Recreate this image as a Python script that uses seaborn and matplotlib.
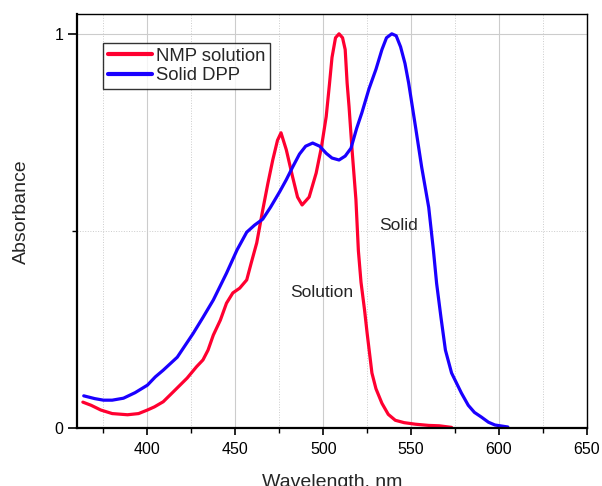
import matplotlib
matplotlib.use('Agg')
import matplotlib.pyplot as plt
import seaborn as sns
import pandas as pd
from matplotlib.ticker import MultipleLocator, FixedLocator

# NMP solution spectrum
sol_wl = [363.3, 368, 373.5, 380, 388.7, 395, 400, 404, 409, 414.7, 422.6, 428, 431.6,
          434.5, 437.5, 441.5, 445, 448.6, 452.5, 456.5, 459, 462.2, 465.6, 468.5,
          471.3, 474, 476, 479, 482.6, 485.4, 488, 492, 496, 499, 501.7, 503.5, 505,
          507, 509, 511, 512.5, 513.6, 514.7, 516.4, 518.6, 520, 521.5, 523.5, 525,
          527.7, 530, 533.4, 537, 541, 546, 552.5, 560, 566, 573]
sol_abs = [0.066, 0.058, 0.046, 0.037, 0.034, 0.037, 0.046, 0.054, 0.067, 0.092, 0.127,
           0.156, 0.173, 0.198, 0.236, 0.274, 0.317, 0.343, 0.355, 0.376, 0.418, 0.47,
           0.553, 0.62, 0.68, 0.73, 0.749, 0.706, 0.637, 0.586, 0.566, 0.586, 0.647,
           0.713, 0.79, 0.87, 0.94, 0.99, 1.0, 0.99, 0.96, 0.875, 0.815, 0.706, 0.58,
           0.45, 0.37, 0.30, 0.24, 0.14, 0.10, 0.063, 0.035, 0.02, 0.014, 0.01, 0.007,
           0.006, 0.002]

# solid DPP spectrum
solid_wl = [363.8, 370, 375, 380, 386.4, 393, 400, 404.5, 409, 417, 426, 431.5, 437.5,
            445, 451, 456.5, 461, 465.6, 470, 475.3, 479, 482.6, 486.5, 490, 494, 498,
            501.7, 505, 509, 512.5, 515.8, 519, 522, 526, 530, 533.4, 536, 539, 541.5,
            544, 546.5, 548.6, 552.5, 556, 560, 562.7, 564.5, 567, 569.5, 573, 578.6,
            582.5, 586, 590, 594, 597.7, 605]
solid_abs = [0.082, 0.075, 0.071, 0.071, 0.076, 0.09, 0.109, 0.13, 0.147, 0.18, 0.24,
             0.28, 0.325, 0.393, 0.452, 0.497, 0.515, 0.53, 0.56, 0.60, 0.63, 0.662,
             0.695, 0.715, 0.723, 0.715, 0.697, 0.685, 0.68, 0.69, 0.71, 0.76, 0.80,
             0.86, 0.91, 0.96, 0.99, 1.0, 0.995, 0.967, 0.925, 0.875, 0.764, 0.662, 0.56,
             0.45, 0.367, 0.28, 0.198, 0.14, 0.089, 0.058, 0.04, 0.028, 0.015, 0.008,
             0.003]

sol = pd.DataFrame({'Wavelength': sol_wl, 'Absorbance': sol_abs})
solid = pd.DataFrame({'Wavelength': solid_wl, 'Absorbance': solid_abs})

sns.set_style('white')
plt.rcParams['font.family'] = ['Liberation Sans', 'DejaVu Sans']

fig = plt.figure(figsize=(6.02, 4.86), dpi=100)
ax = fig.add_axes([0.128, 0.119, 0.847, 0.852])

sns.lineplot(data=sol, x='Wavelength', y='Absorbance', sort=False, ax=ax,
             color='#ff0030', linewidth=2.3, label='NMP solution')
sns.lineplot(data=solid, x='Wavelength', y='Absorbance', sort=False, ax=ax,
             color='#1a00ff', linewidth=2.3, label='Solid DPP')

ax.set_xlim(360, 650)
ax.set_ylim(0, 1.05)

ax.xaxis.set_major_locator(MultipleLocator(50))
ax.xaxis.set_minor_locator(MultipleLocator(25))
ax.yaxis.set_major_locator(FixedLocator([0, 1]))
ax.yaxis.set_minor_locator(FixedLocator([0.5]))
ax.set_yticklabels(['0', '1'])

ax.grid(which='major', color='#cccccc', linewidth=0.8, linestyle='-')
ax.grid(which='minor', color='#cccccc', linewidth=0.7, linestyle=':')
ax.set_axisbelow(True)

ax.tick_params(axis='y', which='major', direction='out', length=6.5, width=1.2)
ax.tick_params(axis='y', which='minor', direction='out', length=3.5, width=1.0)
ax.tick_params(axis='x', which='major', direction='out', length=5, width=1.2)
ax.tick_params(axis='x', which='minor', direction='out', length=3.5, width=1.0)
ax.tick_params(which='both', bottom=True, left=True, top=False, right=False,
               colors='black', labelsize=11.5)
ax.tick_params(axis='x', pad=5)

for side in ['left', 'bottom']:
    ax.spines[side].set_linewidth(1.6)
    ax.spines[side].set_color('black')
for side in ['top', 'right']:
    ax.spines[side].set_linewidth(1.0)
    ax.spines[side].set_color('black')

ax.set_xlabel('Wavelength, nm', fontsize=14, labelpad=12)
ax.set_ylabel('Absorbance', fontsize=14)
ax.yaxis.set_label_coords(-0.092, 0.522)

ax.text(481, 0.343, 'Solution', fontsize=12.5, ha='left', va='center')
ax.text(532, 0.515, 'Solid', fontsize=12.5, ha='left', va='center')

leg = ax.legend(loc='upper left', bbox_to_anchor=(0.051, 0.93), fontsize=13.3,
                frameon=True, fancybox=False, handlelength=2.4, handletextpad=0.2,
                borderpad=0.25, labelspacing=0.15, borderaxespad=0)
leg.get_frame().set_edgecolor('black')
leg.get_frame().set_linewidth(1.0)
for line in leg.get_lines():
    line.set_linewidth(3)

fig.savefig('out.png', dpi=100)
